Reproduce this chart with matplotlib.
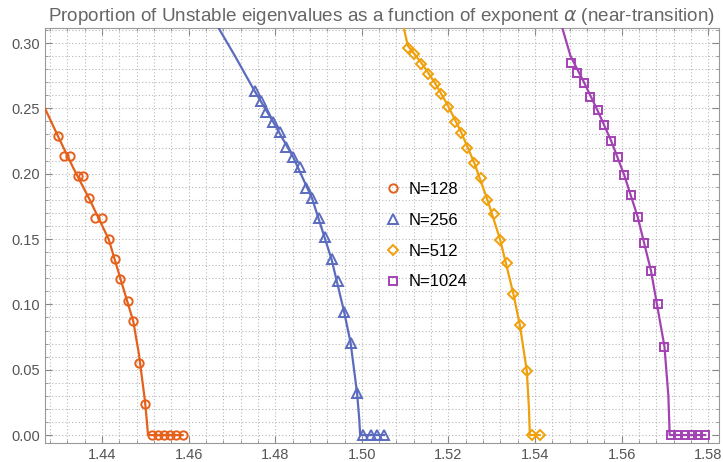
import matplotlib
matplotlib.use('Agg')
import matplotlib.pyplot as plt
from matplotlib.ticker import MultipleLocator, FormatStrFormatter

plt.rcParams['font.family'] = ['Liberation Sans', 'DejaVu Sans']
plt.rcParams['mathtext.fontset'] = 'dejavusans'

# N=128 data points
x_128 = [1.4299, 1.4313, 1.4326, 1.4344, 1.4356, 1.4370, 1.4384, 1.4399, 1.4415, 1.4429,
         1.4442, 1.4459, 1.4472, 1.4485, 1.4499, 1.4515, 1.4528, 1.4542, 1.4556, 1.4570, 1.4586]
y_128 = [0.2288, 0.2135, 0.2135, 0.1982, 0.1982, 0.1816, 0.1663, 0.1663, 0.1497, 0.1344,
         0.1191, 0.1023, 0.0870, 0.0553, 0.0235, 0, 0, 0, 0, 0, 0]
# N=128 fit curve
fx_128 = [1.4268, 1.4299, 1.4334, 1.4370, 1.4415, 1.4442, 1.4472, 1.4485, 1.4499, 1.4503, 1.4506, 1.4586]
fy_128 = [0.250, 0.228, 0.204, 0.181, 0.150, 0.120, 0.087, 0.062, 0.026, 0.012, 0.0, 0.0]

# N=256
x_256 = [1.4752, 1.4766, 1.4779, 1.4795, 1.4810, 1.4825, 1.4841, 1.4856, 1.4871, 1.4885,
         1.4901, 1.4915, 1.4930, 1.4946, 1.4959, 1.4974, 1.4989, 1.5003, 1.5020, 1.5035, 1.5051]
y_256 = [0.2634, 0.2558, 0.2474, 0.2397, 0.2321, 0.2206, 0.2129, 0.2053, 0.1888, 0.1811,
         0.1658, 0.1513, 0.1345, 0.1179, 0.0943, 0.0706, 0.0319, 0, 0, 0, 0]
fx_256 = [1.4669, 1.4707, 1.4752, 1.4795, 1.4841, 1.4885, 1.4930, 1.4959, 1.4974, 1.4989, 1.4994, 1.4996, 1.5051]
fy_256 = [0.3115, 0.2900, 0.2634, 0.2397, 0.2129, 0.1811, 0.1345, 0.0943, 0.0706, 0.0319, 0.012, 0.0, 0.0]

# N=512
x_512 = [1.5106, 1.5120, 1.5137, 1.5152, 1.5168, 1.5183, 1.5199, 1.5214, 1.5229, 1.5244,
         1.5260, 1.5275, 1.5290, 1.5306, 1.5319, 1.5335, 1.5350, 1.5365, 1.5381, 1.5393, 1.5411]
y_512 = [0.2959, 0.2915, 0.2839, 0.2762, 0.2686, 0.2609, 0.2507, 0.2397, 0.2313, 0.2198,
         0.2079, 0.1964, 0.1798, 0.1689, 0.1492, 0.1314, 0.1079, 0.0839, 0.0492, 0, 0]
fx_512 = [1.5097, 1.5106, 1.5137, 1.5168, 1.5199, 1.5229, 1.5260, 1.5290, 1.5319, 1.5350, 1.5365, 1.5381, 1.5386, 1.5388, 1.5411]
fy_512 = [0.3115, 0.2980, 0.2850, 0.2700, 0.2520, 0.2320, 0.2080, 0.1800, 0.1500, 0.1080, 0.0840, 0.0492, 0.020, 0.0, 0.0]

# N=1024
x_1024 = [1.5482, 1.5498, 1.5513, 1.5528, 1.5545, 1.5560, 1.5576, 1.5591, 1.5606, 1.5622,
          1.5637, 1.5652, 1.5668, 1.5683, 1.5699, 1.5714, 1.5731, 1.5747, 1.5762, 1.5777, 1.5793]
y_1024 = [0.2849, 0.2772, 0.2695, 0.2584, 0.2487, 0.2370, 0.2252, 0.2125, 0.1989, 0.1834,
          0.1668, 0.1471, 0.1255, 0.1000, 0.0676, 0, 0, 0, 0, 0, 0]
fx_1024 = [1.5463, 1.5482, 1.5513, 1.5545, 1.5576, 1.5606, 1.5637, 1.5668, 1.5699, 1.5708, 1.5711, 1.5793]
fy_1024 = [0.3115, 0.2900, 0.2700, 0.2480, 0.2250, 0.1990, 0.1670, 0.1255, 0.0676, 0.030, 0.0, 0.0]

series = [
    ('N=128', x_128, y_128, fx_128, fy_128, '#E5601A', 'o', 6.0),
    ('N=256', x_256, y_256, fx_256, fy_256, '#5B6BBE', '^', 6.5),
    ('N=512', x_512, y_512, fx_512, fy_512, '#F0A00A', 'D', 5.2),
    ('N=1024', x_1024, y_1024, fx_1024, fy_1024, '#A343B3', 's', 5.8),
]

fig = plt.figure(figsize=(7.23, 4.62), dpi=100)
ax = fig.add_axes([0.0622, 0.0411, 0.9323, 0.8983])

for label, x, y, fx, fy, color, marker, ms in series:
    ax.plot(fx, fy, color=color, lw=1.6, zorder=3)
    ax.plot(x, y, linestyle='none', marker=marker, ms=ms, mfc='none', mec=color,
            mew=1.4, label=label, zorder=4)

ax.set_xlim(1.4268, 1.5825)
ax.set_ylim(-0.0061, 0.3115)

ax.xaxis.set_major_locator(MultipleLocator(0.02))
ax.xaxis.set_minor_locator(MultipleLocator(0.004))
ax.yaxis.set_major_locator(MultipleLocator(0.05))
ax.yaxis.set_minor_locator(MultipleLocator(0.01))
ax.xaxis.set_major_formatter(FormatStrFormatter('%.2f'))
ax.yaxis.set_major_formatter(FormatStrFormatter('%.2f'))

ax.grid(which='both', color='#b8b8b8', linestyle=(0, (1, 2)), lw=0.8)
ax.set_axisbelow(True)
ax.tick_params(which='both', direction='in', top=True, right=True, colors='#888888',
               labelcolor='#555555', labelsize=10.5)
ax.tick_params(which='major', length=5, width=0.8)
ax.tick_params(which='minor', length=2.5, width=0.6)
for s in ax.spines.values():
    s.set_color('#999999')
    s.set_linewidth(0.8)

ax.set_title('Proportion of Unstable eigenvalues as a function of exponent $\\alpha$ (near-transition)',
             color='#666666', fontsize=13.6, pad=5)

ax.legend(loc='upper left', bbox_to_anchor=(0.492, 0.645), frameon=False, fontsize=12,
          handletextpad=0.3, labelspacing=0.95, handlelength=1.2, borderaxespad=0)

fig.savefig('out.png', dpi=100)
